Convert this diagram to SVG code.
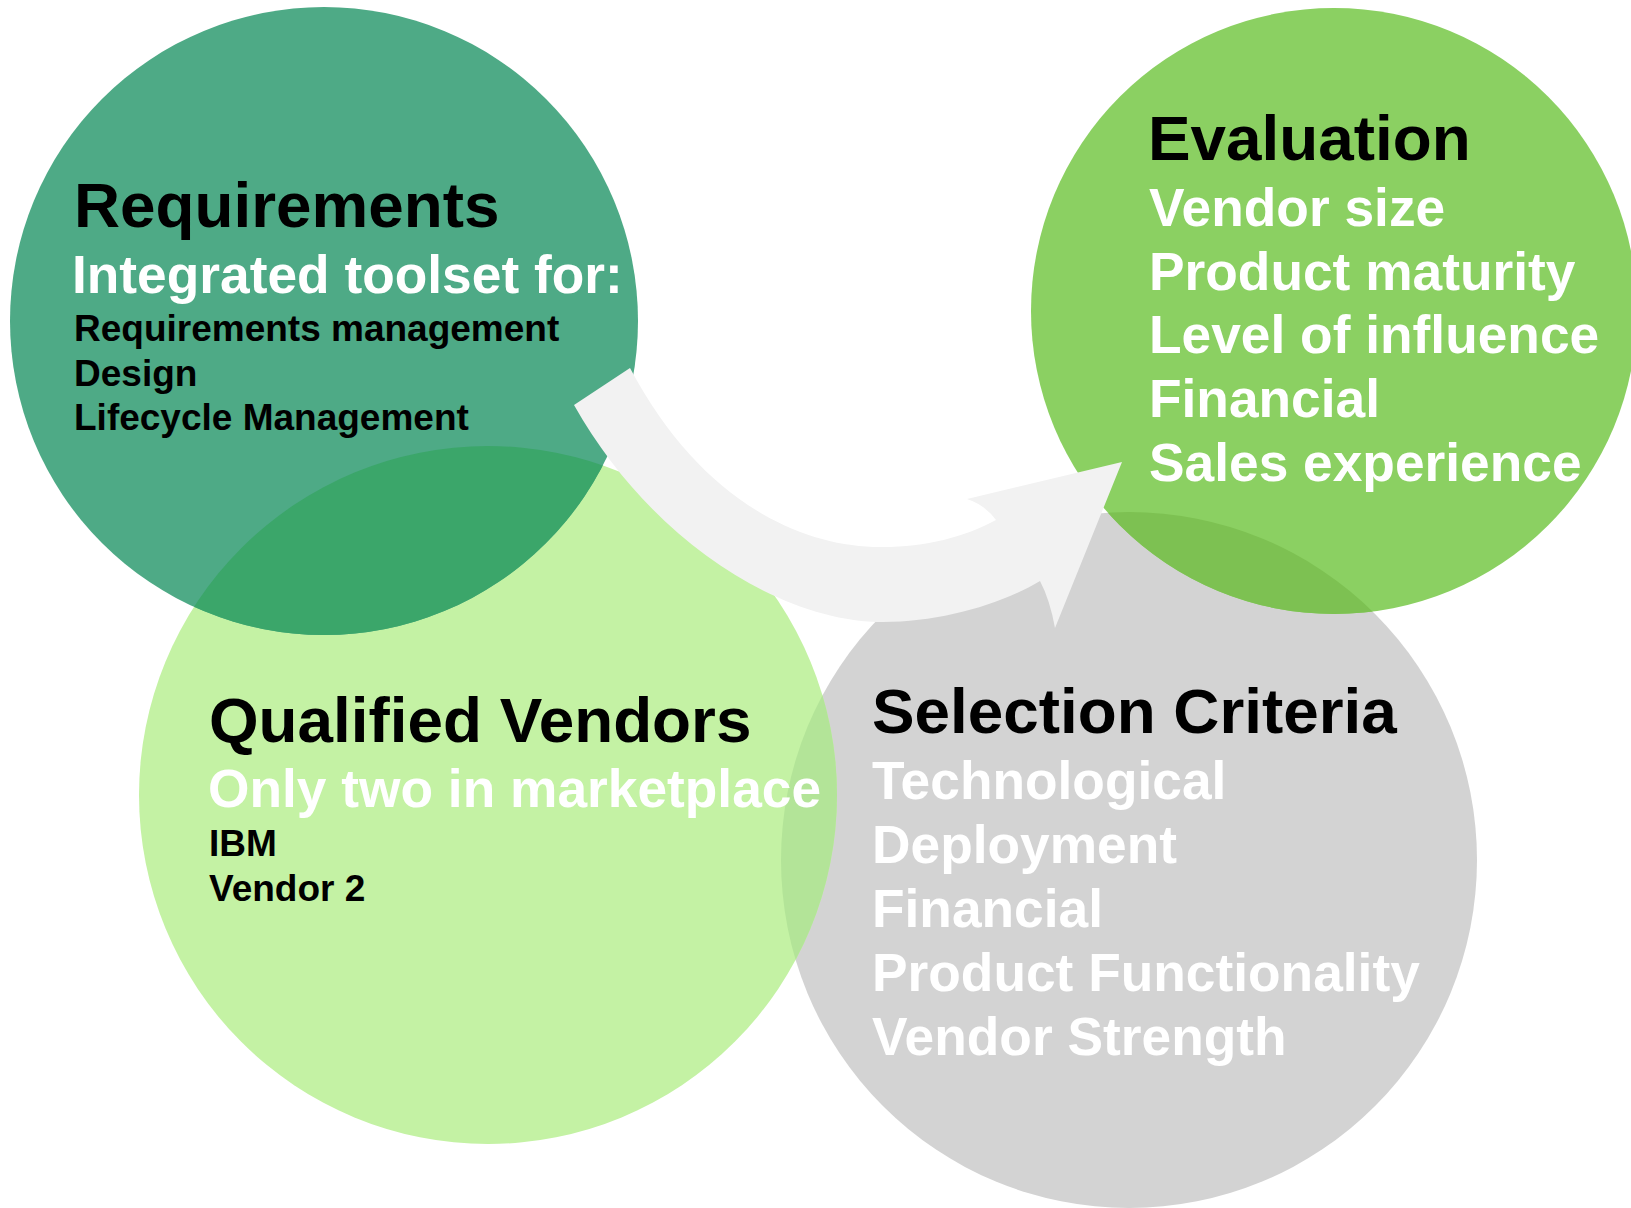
<svg xmlns="http://www.w3.org/2000/svg" width="1631" height="1208" viewBox="0 0 1631 1208">
<style>
text{font-family:"Liberation Sans",Arial,sans-serif;font-weight:bold}
.t{font-size:63.8px;fill:#000}
.s{font-size:53.3px;fill:#fff}
.k{font-size:37px;fill:#000}
</style>
<defs>
<clipPath id="cSel"><circle cx="1129" cy="860" r="348"/></clipPath>
<clipPath id="cQV"><circle cx="488" cy="795" r="349"/></clipPath>
</defs>
<rect width="1631" height="1208" fill="#fff"/>
<g id="selection-criteria">
<circle cx="1129" cy="860" r="348" fill="#d3d3d3"/>
<text class="t" x="872" y="732.5">Selection Criteria</text>
<text class="s" x="872" y="799">Technological</text>
<text class="s" x="872" y="863">Deployment</text>
<text class="s" x="872" y="927">Financial</text>
<text class="s" x="872" y="991">Product Functionality</text>
<text class="s" x="872" y="1055">Vendor Strength</text>
</g>
<g id="evaluation">
<circle cx="1334" cy="311" r="303" fill="#8bd062"/>
<circle cx="1334" cy="311" r="303" fill="#7dc152" clip-path="url(#cSel)"/>
<text class="t" x="1148" y="160">Evaluation</text>
<text class="s" x="1149" y="226">Vendor size</text>
<text class="s" x="1149" y="289.7">Product maturity</text>
<text class="s" x="1149" y="353.4">Level of influence</text>
<text class="s" x="1149" y="417">Financial</text>
<text class="s" x="1149" y="480.7">Sales experience</text>
</g>
<g id="qualified-vendors">
<circle cx="488" cy="795" r="349" fill="#c4f2a4"/>
<circle cx="1129" cy="860" r="348" fill="#b3e498" clip-path="url(#cQV)"/>
<text class="t" x="209" y="742">Qualified Vendors</text>
<text class="s" x="208" y="807">Only two in marketplace</text>
<text class="k" x="209" y="856">IBM</text>
<text class="k" x="209" y="901">Vendor 2</text>
</g>
<g id="requirements">
<circle cx="324" cy="321" r="314" fill="#4eaa86"/>
<circle cx="324" cy="321" r="314" fill="#3ba66a" clip-path="url(#cQV)"/>
<text class="t" x="74" y="227">Requirements</text>
<text class="s" x="72" y="292.5">Integrated toolset for:</text>
<text class="k" x="74" y="341">Requirements management</text>
<text class="k" x="74" y="386">Design</text>
<text class="k" x="74" y="430">Lifecycle Management</text>
</g>
<g id="connectors">
<path d="M630,368 C700,500 800,548 883,547 C925,547 965,537 996,520 Q985,505 967,499 L1122,462 L1055,628 Q1050,600 1040,581 C1000,605 940,622 883,622 C780,622 650,540 574,405 Z" fill="#f2f2f2"/>
</g>
</svg>
